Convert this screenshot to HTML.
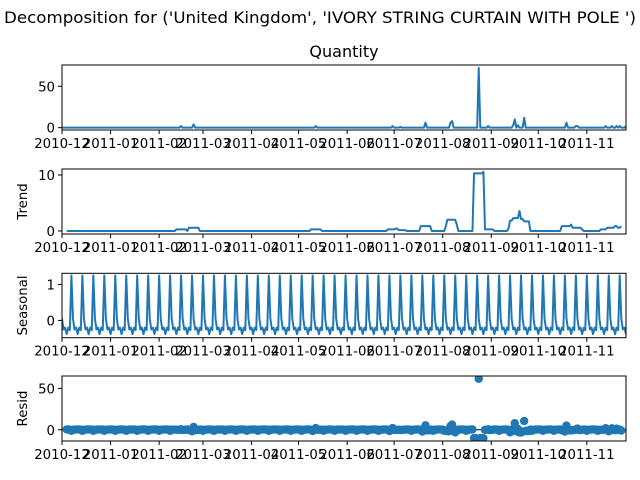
<!DOCTYPE html>
<html><head><meta charset="utf-8"><style>
body{margin:0;background:#fff;}
svg{display:block;font-family:"DejaVu Sans","Liberation Sans",sans-serif;}
</style></head><body>
<svg id="chart" width="640" height="480" viewBox="0 0 640 480" xmlns="http://www.w3.org/2000/svg">
<rect width="640" height="480" fill="#fff"/>
<text x="320" y="23" text-anchor="middle" font-size="16" textLength="632" lengthAdjust="spacingAndGlyphs">Decomposition for ('United Kingdom', 'IVORY STRING CURTAIN WITH POLE ')</text>
<text x="344" y="57" text-anchor="middle" font-size="16">Quantity</text>
</svg>
<script>
const N = 361;
const monthLabels = ["2010-12","2011-01","2011-02","2011-03","2011-04","2011-05","2011-06","2011-07","2011-08","2011-09","2011-10","2011-11"];
const monthDays = [0,31,62,90,121,151,182,212,243,274,304,335];
const spikeDays = [76,84,162,211,216,232,248,249,266,272,288,289,291,295,322,328,329,347,351,354,356,360];
const spikeValues = [2,4,2,2,1,6,6,8,72,2,3,10,3,12,6,2,2,2,2,2,2,2];
const seasonalPattern = [0.05,-0.25,-0.2,-0.38,-0.2,-0.27,1.25];

const quantity = new Array(N).fill(0);
spikeDays.forEach((d,i)=>{quantity[d]=spikeValues[i];});
const trend = quantity.map((v,i)=>{
  if(i<3||i>N-4) return null;
  let s=0; for(let k=-3;k<=3;k++) s+=quantity[i+k]; return s/7;
});
const seasonal = quantity.map((v,i)=>seasonalPattern[i%7]);
const resid = quantity.map((v,i)=>trend[i]===null?null:v-trend[i]-seasonal[i]);

const svg = document.getElementById('chart');
const NS = "http://www.w3.org/2000/svg";
const X0=62, X1=626;
const xs = d => X0 + d*(X1-X0)/(N-1);
function el(tag, attrs, parent){const e=document.createElementNS(NS,tag);for(const k in attrs)e.setAttribute(k,attrs[k]);(parent||svg).appendChild(e);return e;}

const panels = [
  {name:'quantity', top:65, bot:130, ymin:-2.8, ymax:75.7, ticks:[0,50], label:null, data:quantity, kind:'line'},
  {name:'trend', top:169, bot:234, ymin:-0.54, ymax:11.07, ticks:[0,10], label:'Trend', data:trend, kind:'line'},
  {name:'seasonal', top:273.3, bot:337.7, ymin:-0.48, ymax:1.31, ticks:[0,1], label:'Seasonal', data:seasonal, kind:'line'},
  {name:'resid', top:376, bot:441, ymin:-13.6, ymax:65, ticks:[0,50], label:'Resid', data:resid, kind:'scatter'}
];

panels.forEach(p=>{
  const g = el('g',{});
  
  
  const ys = v => p.bot - (v-p.ymin)*(p.bot-p.top)/(p.ymax-p.ymin);
  const clipId='clip-'+p.name;
  const cp=el('clipPath',{id:clipId},g);
  el('rect',{x:X0,y:p.top,width:X1-X0,height:p.bot-p.top},cp);
  if(p.kind==='line'){
    let d='', pen=false;
    p.data.forEach((v,i)=>{ if(v===null){pen=false;return;} d+=(pen?'L':'M')+xs(i).toFixed(2)+' '+ys(v).toFixed(2); pen=true; });
    const path = el('path',{d:d,fill:'none',stroke:'#1f77b4','stroke-width':2,'stroke-linejoin':'round','clip-path':'url(#'+clipId+')'},g);
    
    
  } else {
    el('line',{x1:X0,x2:X1,y1:ys(0),y2:ys(0),stroke:'#000','stroke-width':1},g);
    const pg = el('g',{'clip-path':'url(#'+clipId+')'},g);
    p.data.forEach((v,i)=>{ if(v===null)return;
      const c = el('circle',{cx:xs(i).toFixed(2),cy:ys(v).toFixed(2),r:4.2,fill:'#1f77b4'},pg);
      
      
    });
  }
  const frame = el('rect',{x:X0,y:p.top,width:X1-X0,height:p.bot-p.top,fill:'none',stroke:'#000','stroke-width':1},g);
  
  
  p.ticks.forEach(t=>{
    const y=ys(t);
    el('line',{x1:X0-4,x2:X0,y1:y,y2:y,stroke:'#000','stroke-width':1},g);
    const tx = el('text',{x:X0-7,y:y+5,'text-anchor':'end','font-size':13.3},g);
    tx.textContent=String(t);
    
    
  });
  monthDays.forEach((d,i)=>{
    const x=xs(d);
    el('line',{x1:x,x2:x,y1:p.bot,y2:p.bot+4,stroke:'#000','stroke-width':1},g);
    const tx = el('text',{x:x,y:p.bot+18,'text-anchor':'middle','font-size':13.3},g);
    tx.textContent=monthLabels[i];
    
    
  });
  if(p.label){
    const cy=(p.top+p.bot)/2;
    const lt = el('text',{x:27,y:cy,'text-anchor':'middle','font-size':13.3,transform:'rotate(-90 27 '+cy+')'},g);
    lt.textContent=p.label;
    
    
  }
});
</script>
</body></html>
